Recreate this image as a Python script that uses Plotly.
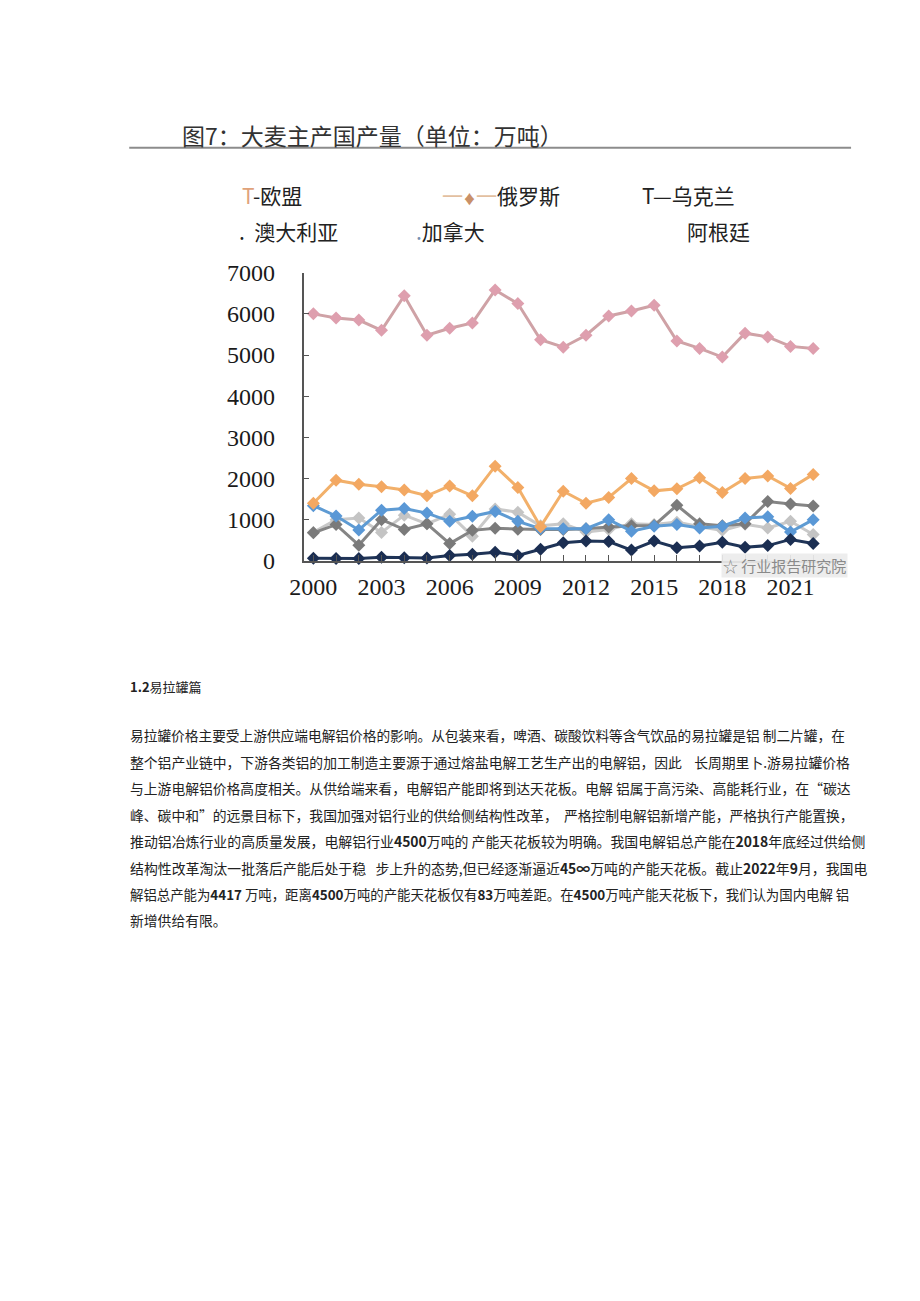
import plotly.graph_objects as go

# ---------------- data ----------------
years = list(range(2000, 2023))
label_years = [2000, 2003, 2006, 2009, 2012, 2015, 2018, 2021]
y_ticks = [0, 1000, 2000, 3000, 4000, 5000, 6000, 7000]

eu = [6000, 5900, 5850, 5600, 6440, 5480, 5650, 5780, 6580, 6250, 5370, 5190,
      5480, 5950, 6070, 6210, 5340, 5160, 4950, 5530, 5440, 5210, 5160]
russia = [1400, 1960, 1860, 1800, 1720, 1580, 1820, 1580, 2300, 1780, 830, 1690,
          1400, 1540, 2000, 1700, 1750, 2020, 1660, 2000, 2060, 1760, 2100]
ukraine = [690, 1000, 1040, 690, 1110, 900, 1130, 600, 1260, 1180, 850, 900,
           700, 760, 900, 880, 940, 830, 740, 890, 800, 960, 640]
australia = [680, 880, 380, 1000, 760, 900, 420, 740, 790, 770, 760, 760,
             780, 820, 850, 860, 1350, 900, 850, 900, 1440, 1380, 1330]
canada = [1340, 1090, 750, 1230, 1270, 1160, 960, 1080, 1200, 960, 780, 780,
          780, 1000, 720, 840, 880, 800, 840, 1040, 1070, 700, 1000]
argentina = [60, 55, 55, 85, 75, 70, 130, 160, 210, 130, 280, 440,
             480, 470, 260, 480, 320, 360, 450, 330, 370, 520, 420]

series = [
    ("乌克兰", ukraine, "#C9C9C9", "#C4C4C4"),
    ("澳大利亚", australia, "#858585", "#7A7A7A"),
    ("加拿大", canada, "#5E9BD3", "#5A98D6"),
    ("俄罗斯", russia, "#F2B06A", "#F3A862"),
    ("欧盟", eu, "#CFA2A6", "#DE9FAE"),
    ("阿根廷", argentina, "#1F3457", "#1B2E52"),
]

W, H = 920, 1301
def px(x):
    return x / W
def py(y):
    return 1 - y / H

fig = go.Figure()
for name, vals, lc, mc in series:
    fig.add_trace(go.Scatter(
        x=years, y=vals, name=name, mode="lines+markers",
        line=dict(color=lc, width=3),
        marker=dict(symbol="diamond", size=10, color=mc),
        cliponaxis=False, showlegend=False,
    ))

tick_text = [str(y) if y in label_years else "" for y in years]

fig.update_layout(
    width=W, height=H,
    margin=dict(l=0, r=0, t=0, b=0),
    paper_bgcolor="white", plot_bgcolor="white",
    xaxis=dict(
        domain=[px(294), px(845)],
        range=[1999.567, 2023.45],
        tickvals=years, ticktext=tick_text,
        ticks="inside", ticklen=6, tickcolor="#555", tickwidth=1,
        showline=True, linecolor="#555", linewidth=1.5,
        showgrid=False, zeroline=False,
        ticklabelstandoff=4,
        tickfont=dict(family="Liberation Serif", size=24, color="#1a1a1a"),
    ),
    yaxis=dict(
        domain=[py(559), py(265)],
        range=[0, 7000],
        tickvals=y_ticks,
        ticks="inside", ticklen=6, tickcolor="#555", tickwidth=1,
        showline=True, linecolor="#555", linewidth=1.5,
        showgrid=False, zeroline=False,
        ticklabelstandoff=22,
        tickfont=dict(family="Liberation Serif", size=24, color="#1a1a1a"),
    ),
)

CJK = "Noto Sans CJK SC"
ann = []
def text(x, y, s, size, color="#222", anchor="left", bg=None):
    d = dict(x=px(x), y=py(y), xref="paper", yref="paper", text=s,
             showarrow=False, xanchor=anchor, yanchor="middle",
             font=dict(family=CJK, size=size, color=color))
    if bg:
        d["bgcolor"] = bg
    ann.append(d)

# title
text(169, 124, "图7：大麦主产国产量（单位：万吨）", 23, "#333")

# legend (as printed)
text(229, 186, "<span style='color:#E0A27A'>T</span>-欧盟", 21, "#222")
text(433, 186, "<span style='color:#E3BFA0'>一</span><span style='color:#C99068;font-size:13px'>♦</span><span style='color:#E3BFA0'>一</span>俄罗斯", 21, "#222")
text(636, 186, "T—乌克兰", 21, "#222")
text(226, 222, ".&nbsp;&nbsp;澳大利亚", 21, "#222")
text(406, 222, "<span style='color:#7790B0'>.</span>加拿大", 21, "#222")
text(681, 222, "阿根廷", 21, "#222")

# watermark
text(847, 564, "☆ 行业报告研究院", 15, "#8a8a8a", anchor="right", bg="rgba(236,236,236,0.92)")

# body text
text(116, 687, "<b>1.2</b>易拉罐篇", 13, "#222")
NB = "\u00a0"
lines = [
    "易拉罐价格主要受上游供应端电解铝价格的影响。从包装来看，啤酒、碳酸饮料等含气饮品的易拉罐是铝" + NB + "制二片罐，在",
    "整个铝产业链中，下游各类铝的加工制造主要源于通过熔盐电解工艺生产出的电解铝，因此" + NB * 4 + "长周期里卜.游易拉罐价格",
    "与上游电解铝价格高度相关。从供给端来看，电解铝产能即将到达天花板。电解" + NB + "铝属于高污染、高能耗行业，在“碳达",
    "峰、碳中和”的远景目标下，我国加强对铝行业的供给侧结构性改革，" + NB * 2 + "严格控制电解铝新增产能，严格执行产能置换，",
    "推动铝冶炼行业的高质量发展，电解铝行业<b>4500</b>万吨的" + NB + "产能天花板较为明确。我国电解铝总产能在<b>2018</b>年底经过供给侧",
    "结构性改革淘汰一批落后产能后处于稳" + NB * 3 + "步上升的态势,但已经逐渐逼近<b>45∞</b>万吨的产能天花板。截止<b>2022</b>年<b>9</b>月，我国电",
    "解铝总产能为<b>4417</b>" + NB + "万吨，距离<b>4500</b>万吨的产能天花板仅有<b>83</b>万吨差距。在<b>4500</b>万吨产能天花板下，我们认为国内电解" + NB + "铝",
    "新增供给有限。",
]
line_sizes = [13.7, 13.8, 13.8, 13.8, 13.9, 13.9, 13.4, 13.8]
for i, s in enumerate(lines):
    text(116, 737 + 27 * i, s, line_sizes[i], "#222")

fig.update_layout(
    annotations=ann,
    shapes=[dict(type="line", xref="paper", yref="paper",
                 x0=px(117), x1=px(850), y0=py(137.5), y1=py(137.5),
                 line=dict(color="#8c8c8c", width=2))],
)

fig.write_html("out.html")
